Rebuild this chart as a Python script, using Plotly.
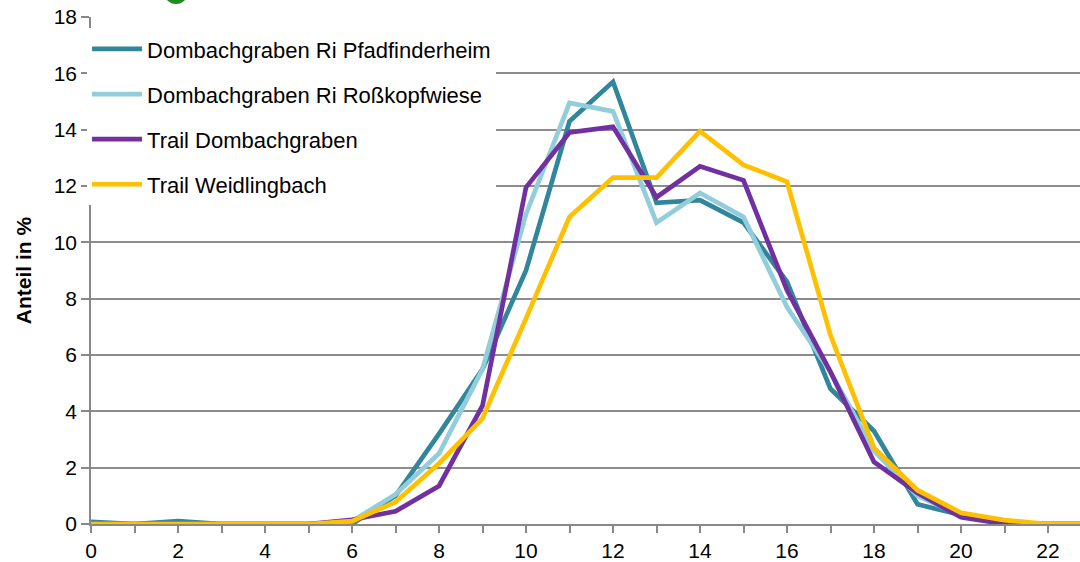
import plotly.graph_objects as go

hours = list(range(0, 24))
x_tick_vals = list(range(0, 24, 2))
y_tick_vals = list(range(0, 19, 2))

names = ["Dombachgraben Ri Pfadfinderheim", "Dombachgraben Ri Roßkopfwiese",
         "Trail Dombachgraben", "Trail Weidlingbach"]
colors = ["#31869B", "#92CDDC", "#7030A0", "#FFC000"]

pfadfinderheim = [0.08, 0.0, 0.1, 0.0, 0.0, 0.0, 0.0, 1.0, 3.2, 5.5, 9.0, 14.3, 15.7, 11.4,
                  11.5, 10.7, 8.6, 4.8, 3.3, 0.7, 0.32, 0.05, 0.0, 0.0]
rosskopfwiese = [0.0, 0.0, 0.0, 0.0, 0.0, 0.0, 0.1, 1.05, 2.5, 5.5, 11.0, 14.95, 14.65, 10.7,
                 11.75, 10.9, 7.7, 5.4, 2.6, 1.0, 0.3, 0.05, 0.0, 0.0]
trail_dombach = [0.0, 0.0, 0.0, 0.0, 0.0, 0.0, 0.15, 0.45, 1.35, 4.2, 11.95, 13.9, 14.1, 11.6,
                 12.7, 12.2, 8.3, 5.4, 2.2, 1.1, 0.24, 0.0, 0.0, 0.0]
trail_weidling = [0.0, 0.0, 0.0, 0.0, 0.0, 0.0, 0.1, 0.78, 2.15, 3.75, 7.3, 10.9, 12.3, 12.3,
                  13.95, 12.75, 12.15, 6.7, 2.7, 1.2, 0.4, 0.14, 0.0, 0.0]
series = [pfadfinderheim, rosskopfwiese, trail_dombach, trail_weidling]

FONT = "Liberation Sans Narrow, Arial Narrow, Liberation Sans, Arial, sans-serif"

fig = go.Figure()
for i, (n, c, s) in enumerate(zip(names, colors, series)):
    fig.add_trace(go.Scatter(x=hours, y=s, mode="lines", name=n, legendgroup=str(i),
                             line=dict(color=c, width=4.7)))

W, H = 1080, 562
ml, mr, mt, mb = 91, 0, 17, 38
pw = W - ml - mr
ph = H - mt - mb
px_per_hour = 43.5

fig.update_layout(
    width=W, height=H,
    margin=dict(l=ml, r=mr, t=mt, b=mb, autoexpand=False),
    paper_bgcolor="white", plot_bgcolor="white",
    font=dict(family=FONT, size=20, color="black"),
    showlegend=True,
    legend=dict(x=-0.004, y=0.978, xanchor="left", yanchor="top",
                bgcolor="white", font=dict(size=22, family=FONT),
                traceorder="grouped", tracegroupgap=13.5,
                itemwidth=50),
    xaxis=dict(range=[0, pw / px_per_hour], tickvals=x_tick_vals, automargin=False,
               ticks="outside", ticklen=7, tickcolor="#888888", tickwidth=1.5,
               showline=True, linecolor="#888888", linewidth=1.5,
               showgrid=False, zeroline=False,
               minor=dict(dtick=1, ticks="outside", ticklen=7, tickcolor="#888888", tickwidth=1.5),
               tickfont=dict(size=21, family=FONT)),
    yaxis=dict(range=[0, 18], tickvals=y_tick_vals, automargin=False,
               ticks="outside", ticklen=8, tickcolor="#888888", tickwidth=1.5,
               showline=True, linecolor="#888888", linewidth=1.5,
               showgrid=True, gridcolor="#8c8c8c", gridwidth=1.5, zeroline=False,
               tickfont=dict(size=21, family=FONT),
               title=dict(text="<b>Anteil in %</b>", font=dict(size=21, family=FONT), standoff=16)),
    shapes=[dict(type="circle", xref="paper", yref="paper",
                 x0=(176 - 12 - ml) / pw, x1=(176 + 12 - ml) / pw,
                 y0=(H - mb - (-8 + 12)) / ph, y1=(H - mb - (-8 - 12)) / ph,
                 fillcolor="#1E8C1E", line=dict(width=0), layer="above")],
)

fig.write_html("out.html", config={"displayModeBar": False},
               post_script="document.body.style.margin='0';")
